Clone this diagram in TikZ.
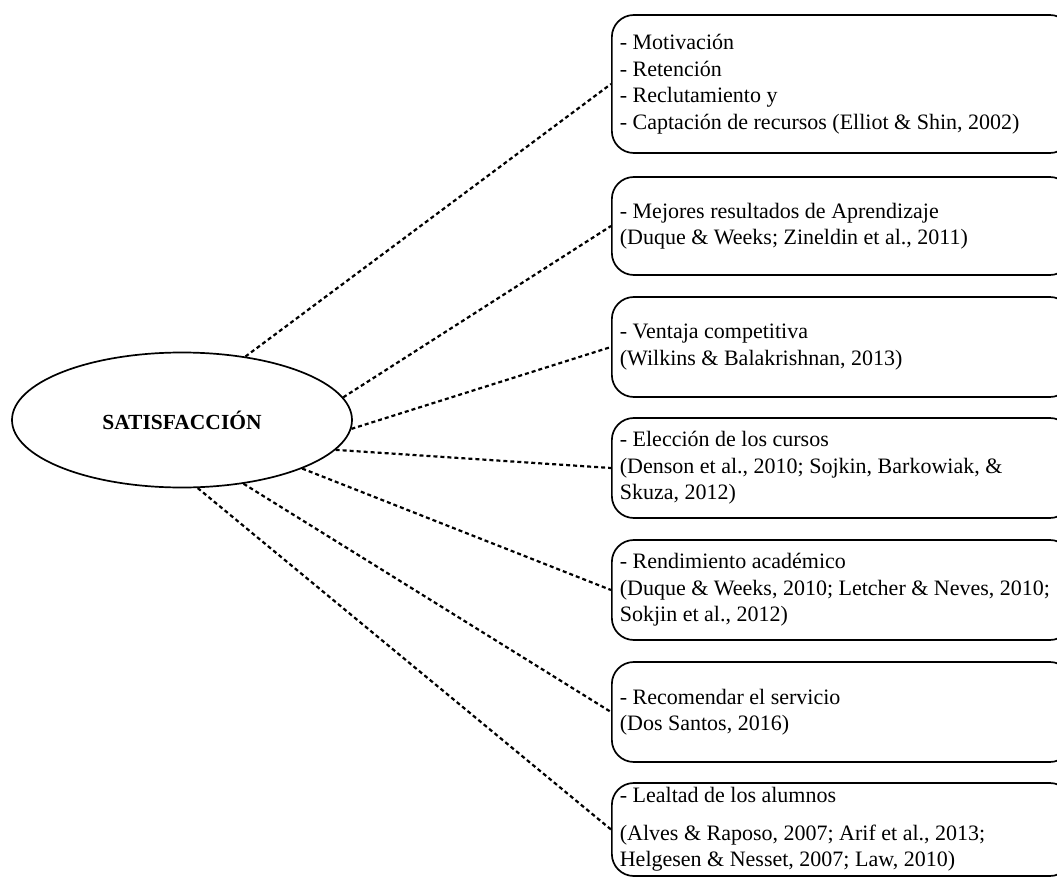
\documentclass[tikz,border=0pt]{standalone}
\usepackage{fontspec}
\setmainfont{Liberation Serif}
\usetikzlibrary{shapes.geometric}

\begin{document}
\begin{tikzpicture}[x=1pt,y=-1pt,
  % 设置各种style
  % caja 是右边圆角方框的style, centro 是中间椭圆的style,
  % punteada 是连线(虚线)的style
  caja/.style={draw, line width=1.7pt, rounded corners=22pt,
    anchor=west, text width=444pt, inner xsep=8pt, inner ysep=0pt,
    minimum width=460pt, align=flush left,
    font=\fontsize{22}{26.5}\selectfont\frenchspacing},
  centro/.style={draw, ellipse, line width=1.7pt, inner sep=0pt,
    minimum width=340pt, minimum height=135pt,
    font=\fontsize{21.5}{26.5}\selectfont\bfseries},
  punteada/.style={line width=2.2pt, dash pattern=on 4pt off 3pt}]

  % 画布大小
  \useasboundingbox (0,0) rectangle (1057,877);

  % 椭圆
  \node[centro] (sat) at (182,420) {SATISFACCIÓN};

  % 右边的方框
  \node[caja, minimum height=138pt] (motiv) at (611,84)
    {- Motivación\\ - Retención\\ - Reclutamiento y\\
     - Captación de recursos (Elliot \& Shin, 2002)};
  \node[caja, minimum height=98pt] (aprend) at (611,226)
    {- Mejores resultados de Aprendizaje\\
     (Duque \& Weeks; Zineldin et al., 2011)};
  \node[caja, minimum height=100pt] (ventaja) at (611,347)
    {- Ventaja competitiva\\ (Wilkins \& Balakrishnan, 2013)};
  \node[caja, minimum height=100pt] (eleccion) at (611,468)
    {- Elección de los cursos\\
     (Denson et al., 2010; Sojkin, Barkowiak, \&\\ Skuza, 2012)};
  \node[caja, minimum height=100pt] (rendim) at (611,590)
    {- Rendimiento académico\\
     (Duque \& Weeks, 2010; Letcher \& Neves, 2010;\\
     Sokjin et al., 2012)};
  \node[caja, minimum height=100pt] (recom) at (611,712)
    {- Recomendar el servicio\\ (Dos Santos, 2016)};
  \node[caja, minimum height=93pt] (lealtad) at (611,829.5)
    {- Lealtad de los alumnos\\[11pt]
     (Alves \& Raposo, 2007; Arif et al., 2013;\\
     Helgesen \& Nesset, 2007; Law, 2010)};

  % 连线
  \draw[punteada] (sat.45) -- (motiv.west);
  \draw[punteada] (sat.8) -- (aprend.west);
  \draw[punteada] (sat.-3) -- (ventaja.west);
  \draw[punteada] (sat.-11) -- (eleccion.west);
  \draw[punteada] (sat.-22) -- (rendim.west);
  \draw[punteada] (sat.-46) -- (recom.west);
  \draw[punteada] (sat.-77) -- (lealtad.west);

\end{tikzpicture}
\end{document}
